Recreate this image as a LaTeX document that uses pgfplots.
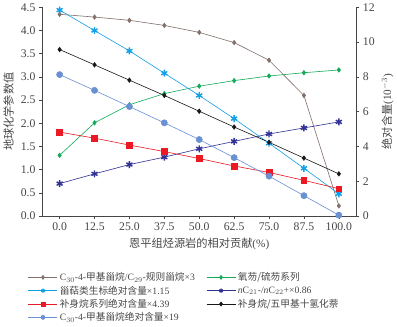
\documentclass[border=0pt]{standalone}
\usepackage{fontspec}
\setmainfont{Liberation Serif}
\newfontfamily\cjk{Noto Sans CJK SC}
\usepackage{pgfplots}
\pgfplotsset{compat=1.18}
\definecolor{cbrown}{RGB}{130,112,106}
\definecolor{cgreen}{RGB}{20,170,90}
\definecolor{ccyan}{RGB}{20,160,230}
\definecolor{cnavy}{RGB}{50,50,150}
\definecolor{cred}{RGB}{235,25,35}
\definecolor{cblack}{RGB}{25,25,25}
\definecolor{clblue}{RGB}{105,145,210}
\definecolor{ctext}{RGB}{70,70,70}
\begin{document}
\begin{tikzpicture}[font=\fontsize{10}{12}\selectfont]
\begin{axis}[
  width=307bp, height=204bp, scale only axis,
  xmin=-6.25, xmax=106.25, ymin=0, ymax=4.5,
  axis x line*=bottom, axis y line*=left,
  axis line style={ctext, line width=0.6pt},
  tick style={ctext, line width=0.5pt},
  tick align=outside, major tick length=3bp,
  /pgf/number format/assume math mode=true,
  xtick={0,12.5,25,37.5,50,62.5,75,87.5,100},
  xticklabels={0.0,12.5,25.0,37.5,50.0,62.5,75.0,87.5,100.0},
  ytick={0,0.5,1,1.5,2,2.5,3,3.5,4,4.5},
  yticklabels={0.0,0.5,1.0,1.5,2.0,2.5,3.0,3.5,4.0,4.5},
  ticklabel style={font=\fontsize{11.5}{12}\selectfont, text=ctext},
  xlabel={{\cjk 恩平组烃源岩的相对贡献}(\%)},
  ylabel={\cjk 地球化学参数值},
  label style={font=\fontsize{11}{12}\selectfont, text=ctext},
  every axis plot/.append style={line width=0.6pt},
  legend columns=2,
  legend cell align=left,
  legend style={draw=none, fill=none, at={(-0.055,-0.25)}, anchor=north west,
    font=\fontsize{9.5}{11}\selectfont, text=ctext,
    /tikz/every even column/.append style={column sep=9bp},
    row sep=-0.5bp},
  legend image code/.code={\draw[mark repeat=2,mark phase=2,mark size=2pt] plot coordinates {(0cm,0cm) (0.5cm,0cm) (1cm,0cm)};},
]
\addplot[cbrown, mark=diamond*, mark size=2.2pt] coordinates {(0,4.35)(12.5,4.29)(25,4.22)(37.5,4.11)(50,3.96)(62.5,3.74)(75,3.36)(87.5,2.60)(100,0.22)};
\addlegendentry{C$_{30}$-4-{\cjk 甲基甾烷}/C$_{29}$-{\cjk 规则甾烷}×3}
\addplot[cgreen, mark=diamond*, mark size=2.2pt] coordinates {(0,1.31)(12.5,2.01)(25,2.40)(37.5,2.64)(50,2.80)(62.5,2.92)(75,3.02)(87.5,3.09)(100,3.15)};
\addlegendentry{\cjk 氧芴/硫芴系列}
\addplot[ccyan, mark=asterisk, mark size=3.4pt, mark options={line width=1.4pt}] coordinates {(0,4.44)(12.5,4.00)(25,3.56)(37.5,3.08)(50,2.60)(62.5,2.10)(75,1.57)(87.5,1.03)(100,0.48)};
\addlegendentry{{\cjk 甾萜类生标绝对含量}×1.15}
\addplot[cnavy, mark=asterisk, mark size=3.4pt, mark options={line width=1.4pt}] coordinates {(0,0.70)(12.5,0.91)(25,1.11)(37.5,1.27)(50,1.45)(62.5,1.61)(75,1.77)(87.5,1.90)(100,2.03)};
\addlegendentry{\textit{n}C$_{21}$-/\textit{n}C$_{22}$+×0.86}
\addplot[cred, mark=square*, mark size=2.8pt] coordinates {(0,1.81)(12.5,1.68)(25,1.53)(37.5,1.39)(50,1.24)(62.5,1.08)(75,0.94)(87.5,0.77)(100,0.59)};
\addlegendentry{{\cjk 补身烷系列绝对含量}×4.39}
\addplot[cblack, mark=diamond*, mark size=2.2pt] coordinates {(0,3.59)(12.5,3.26)(25,2.93)(37.5,2.60)(50,2.26)(62.5,1.92)(75,1.59)(87.5,1.25)(100,0.91)};
\addlegendentry{\cjk 补身烷/五甲基十氢化萘}
\addplot[clblue, mark=*, mark size=3pt] coordinates {(0,3.05)(12.5,2.71)(25,2.36)(37.5,2.01)(50,1.65)(62.5,1.26)(75,0.86)(87.5,0.44)(100,0.02)};
\addlegendentry{C$_{30}$-4-{\cjk 甲基甾烷绝对含量}×19}
\end{axis}
\begin{axis}[
  width=307bp, height=204bp, scale only axis,
  xmin=-6.25, xmax=106.25, ymin=0, ymax=12,
  hide x axis,
  axis y line*=right,
  axis line style={ctext, line width=0.6pt},
  tick style={ctext, line width=0.5pt},
  tick align=outside, major tick length=3bp,
  /pgf/number format/assume math mode=true,
  ytick={0,2,4,6,8,10,12},
  ticklabel style={font=\fontsize{11.5}{12}\selectfont, text=ctext},
  ylabel={{\cjk 绝对含量}(10$^{-3}$)},
  label style={font=\fontsize{11}{12}\selectfont, text=ctext},
]
\addplot[draw=none] coordinates {(0,0)};
\end{axis}
\end{tikzpicture}
\end{document}
